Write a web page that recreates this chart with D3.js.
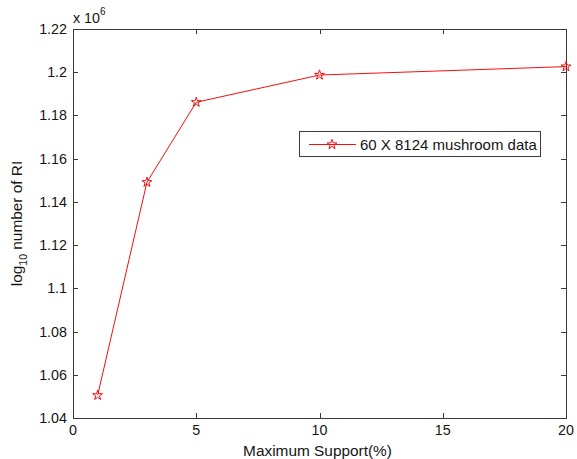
<!DOCTYPE html>
<html><head><meta charset="utf-8">
<script src="https://cdn.jsdelivr.net/npm/d3@7/dist/d3.min.js"></script>
<style>body{margin:0;background:#fff}svg{display:block}text{font-family:"Liberation Sans",Arial,sans-serif}</style>
</head><body><svg id="c" width="577" height="459"></svg>
<script>
const xValues = [1, 3, 5, 10, 20];
const yValues = [1.0505, 1.1491, 1.1861, 1.1987, 1.2026]; // x 10^6
const xTicks = [0, 5, 10, 15, 20];
const yTicks = [1.04, 1.06, 1.08, 1.1, 1.12, 1.14, 1.16, 1.18, 1.2, 1.22];
const seriesName = "60 X 8124 mushroom data";

const svg = d3.select("#c");
const L = 73, R = 566, T = 29, B = 418;
const x = d3.scaleLinear().domain([0, 20]).range([L, R]);
const y = d3.scaleLinear().domain([1.04, 1.22]).range([B, T]);
const axisCol = "#3a3a3a";
const txtCol = "#151515";
const fs = 14.3, lfs = 15.4;

svg.append("rect").attr("x", L + 0.5).attr("y", T + 0.5).attr("width", R - L).attr("height", B - T)
  .attr("fill", "#fff").attr("stroke", axisCol).attr("stroke-width", 1);

const tl = 5;
const g = svg.append("g");
xTicks.forEach(t => {
  const px = Math.round(x(t)) + 0.5;
  g.append("line").attr("x1", px).attr("x2", px).attr("y1", B).attr("y2", B - tl).attr("stroke", axisCol);
  g.append("line").attr("x1", px).attr("x2", px).attr("y1", T).attr("y2", T + tl).attr("stroke", axisCol);
  g.append("text").attr("x", x(t)).attr("y", B + 17).attr("text-anchor", "middle").attr("font-size", fs).attr("fill", txtCol).text(d3.format("d")(t));
});
yTicks.forEach(t => {
  const py = Math.round(y(t)) + 0.5;
  g.append("line").attr("x1", L).attr("x2", L + tl).attr("y1", py).attr("y2", py).attr("stroke", axisCol);
  g.append("line").attr("x1", R).attr("x2", R - tl).attr("y1", py).attr("y2", py).attr("stroke", axisCol);
  g.append("text").attr("x", L - 6).attr("y", y(t) + 5).attr("text-anchor", "end").attr("font-size", fs).attr("fill", txtCol).text(String(+t.toFixed(2)));
});

// exponent label
const ex = svg.append("text").attr("x", L).attr("y", 23).attr("font-size", fs).attr("fill", txtCol);
ex.append("tspan").text("x 10");
ex.append("tspan").attr("font-size", 10).attr("dy", -8).text("6");

// axis labels
svg.append("text").attr("x", (L + R) / 2 - 2).attr("y", 456).attr("text-anchor", "middle").attr("font-size", lfs).attr("fill", txtCol).text("Maximum Support(%)");
const yl = svg.append("text").attr("transform", `translate(22,${(T + B) / 2}) rotate(-90)`).attr("text-anchor", "middle").attr("font-size", lfs).attr("fill", txtCol);
yl.append("tspan").text("log");
yl.append("tspan").attr("font-size", 10.5).attr("dy", 5).text("10");
yl.append("tspan").attr("dy", -5).text(" number of RI");

const red = "#f01010";
const line = d3.line().x((d, i) => x(xValues[i])).y(d => y(d));
svg.append("path").datum(yValues).attr("d", line).attr("fill", "none").attr("stroke", red).attr("stroke-width", 1);

const star = d3.symbol().type(d3.symbolStar).size(30);
svg.selectAll("path.pt").data(yValues).join("path").attr("class", "pt")
  .attr("transform", (d, i) => `translate(${x(xValues[i])},${y(d)})`)
  .attr("d", star()).attr("fill", "none").attr("stroke", red).attr("stroke-width", 1);

// legend
const lg = svg.append("g");
lg.append("rect").attr("x", 299.5).attr("y", 131.5).attr("width", 241).attr("height", 25).attr("fill", "#fff").attr("stroke", axisCol);
lg.append("line").attr("x1", 309).attr("x2", 356).attr("y1", 144.5).attr("y2", 144.5).attr("stroke", red);
lg.append("path").attr("transform", "translate(332,144.5)").attr("d", star()).attr("fill", "none").attr("stroke", red);
lg.append("text").attr("x", 360).attr("y", 149.5).attr("font-size", 15).attr("fill", txtCol).text(seriesName);
</script></body></html>
